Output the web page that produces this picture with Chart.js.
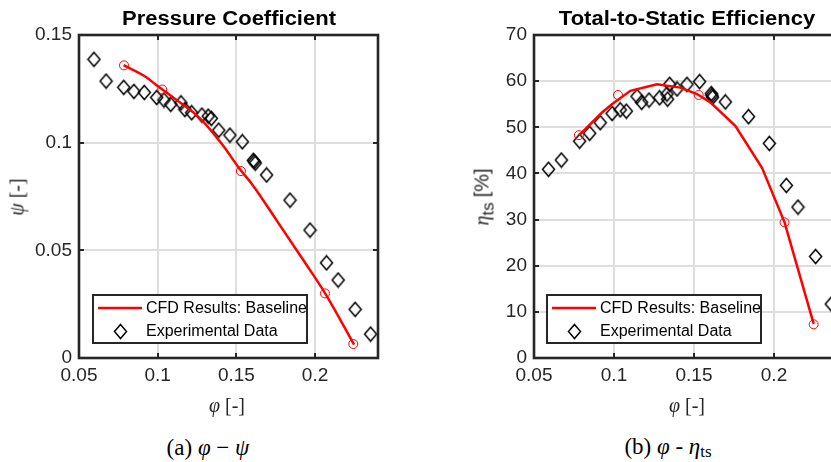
<!DOCTYPE html>
<html>
<head>
<meta charset="utf-8">
<script src="https://cdn.jsdelivr.net/npm/chart.js@4.4.1/dist/chart.umd.min.js"></script>
<style>
  body { margin: 0; width: 831px; height: 462px; overflow: hidden; background: #fff; position: relative; }
  canvas { position: absolute; top: 0; }
  .lbl { position: absolute; white-space: nowrap; transform: translate(-50%, -50%); color: #262626; }
  .title { font: bold 20px "Liberation Sans", Arial, sans-serif; color: #000; transform: translate(-50%, -50%) scaleX(1.1); }
  .ylab { transform: translate(-50%, -50%) rotate(-90deg); }
  .m { font-family: "Liberation Serif", serif; font-style: italic; }
  .r { font-family: "Liberation Serif", serif; }
  .s { font-family: "Liberation Sans", Arial, sans-serif; }
  .cap { font: 23px "Liberation Serif", serif; color: #000; }
  .cap sub { font-size: 17px; vertical-align: -3px; }
</style>
</head>
<body>
<canvas id="psiChart" width="400" height="400" style="left:0"></canvas>
<canvas id="etaChart" width="440" height="400" style="left:420px"></canvas>

<div class="lbl title" style="left:229px;top:18px">Pressure Coefficient</div>
<div class="lbl title" style="left:687px;top:18px">Total-to-Static Efficiency</div>

<div class="lbl ylab" style="left:17px;top:197px;font-size:20px"><span class="m">ψ</span> <span class="r">[-]</span></div>
<div class="lbl ylab" style="left:482px;top:197px;font-size:20px"><span class="m">η</span><span class="s" style="font-size:17px;position:relative;top:5px">ts</span> <span class="s">[%]</span></div>

<div class="lbl" style="left:227px;top:405px;font-size:20px"><span class="m">φ</span> <span class="r">[-]</span></div>
<div class="lbl" style="left:687px;top:405px;font-size:20px"><span class="m">φ</span> <span class="r">[-]</span></div>

<div class="lbl cap" style="left:208px;top:448px">(a) <i>φ</i> − <i>ψ</i></div>
<div class="lbl cap" style="left:668px;top:448px">(b) <i>φ</i> - <i>η</i><sub>ts</sub></div>

<script>
// ---- axis ticks ----
const phiTicks = [0.05, 0.1, 0.15, 0.2];
const psiTicks = [0, 0.05, 0.1, 0.15];
const etaTicks = [0, 10, 20, 30, 40, 50, 60, 70];

// ---- (a) pressure coefficient ----
const cfdPhiA = [0.0783, 0.0925, 0.0987, 0.1102, 0.1269, 0.1414, 0.1519, 0.1602, 0.1758, 0.1925, 0.2066, 0.2248];
const cfdPsi = [0.1360, 0.1305, 0.1270, 0.1208, 0.1113, 0.0988, 0.0880, 0.0805, 0.0637, 0.0455, 0.0298, 0.0062];
const cfdMarkPhiA = [0.0786, 0.1029, 0.1529, 0.2063, 0.2243];
const cfdMarkPsi = [0.1359, 0.1247, 0.0868, 0.0300, 0.0065];
const expPhiA = [0.0595, 0.0672, 0.0784, 0.0849, 0.0915, 0.0994, 0.1040, 0.1083, 0.1148, 0.1173,
                 0.1216, 0.1281, 0.1321, 0.1341, 0.1388, 0.1459, 0.1538, 0.1608, 0.1614, 0.1620,
                 0.1692, 0.1841, 0.1968, 0.2073, 0.2147, 0.2255, 0.2353];
const expPsi = [0.1387, 0.1286, 0.1257, 0.1238, 0.1233, 0.1210, 0.1198, 0.1178, 0.1185, 0.1154,
                0.1139, 0.1128, 0.1123, 0.1113, 0.1058, 0.1035, 0.1004, 0.0918, 0.0912, 0.0905,
                0.0850, 0.0733, 0.0594, 0.0442, 0.0362, 0.0226, 0.0111];

// ---- (b) total-to-static efficiency ----
const cfdPhiB = [0.0783, 0.0925, 0.0987, 0.1102, 0.1269, 0.1414, 0.1519, 0.1602, 0.1758, 0.1925, 0.2066, 0.2248];
const cfdEta = [48.3, 53.2, 55.0, 57.9, 59.3, 58.6, 57.2, 55.4, 50.3, 41.2, 29.4, 7.4];
const cfdMarkPhiB = [0.0781, 0.1025, 0.1529, 0.2066, 0.2248];
const cfdMarkEta = [48.3, 57.0, 57.0, 29.4, 7.3];
const expPhiB = [0.0591, 0.0671, 0.0785, 0.0848, 0.0914, 0.0988, 0.1039, 0.1077, 0.1144, 0.1173,
                 0.1219, 0.1285, 0.1331, 0.1335, 0.1348, 0.1394, 0.1456, 0.1535, 0.1608, 0.1612,
                 0.1616, 0.1696, 0.1841, 0.1971, 0.2077, 0.2150, 0.2260, 0.2358];
const expEta = [40.9, 42.9, 47.0, 48.7, 51.0, 53.0, 53.8, 53.5, 56.7, 55.4,
                55.9, 56.4, 57.2, 56.1, 59.3, 58.3, 59.3, 59.9, 57.3, 56.9,
                56.5, 55.5, 52.3, 46.5, 37.4, 32.7, 22.0, 11.7];

const AXIS = "#262626";
const RED = "#ff0000";
const TICK_FONT = { family: "'Liberation Sans', Arial, sans-serif", size: 19 };

const toPoints = (xs, ys) => xs.map((x, i) => ({ x, y: ys[i] }));

// MATLAB style diamond marker (slightly taller than wide)
function makeDiamond() {
  const c = document.createElement("canvas");
  c.width = 15; c.height = 17;
  const g = c.getContext("2d");
  g.strokeStyle = "#000";
  g.lineWidth = 1.5;
  g.beginPath();
  g.moveTo(7.5, 1.5); g.lineTo(13.5, 8.5); g.lineTo(7.5, 15.5); g.lineTo(1.5, 8.5);
  g.closePath();
  g.stroke();
  return c;
}
const diamond = makeDiamond();

/**
 * Box, inward tick marks and the legend drawn like a MATLAB axes
 */
const matlabAxes = {
  id: "matlabAxes",
  afterDraw(chart, args, opts) {
    const { ctx, chartArea: a, scales: { x, y } } = chart;
    ctx.save();
    ctx.strokeStyle = AXIS;

    ctx.lineWidth = 2;
    ctx.beginPath();
    x.ticks.forEach(t => {
      const px = Math.round(x.getPixelForValue(t.value));
      ctx.moveTo(px, a.bottom); ctx.lineTo(px, a.bottom - 5);
      ctx.moveTo(px, a.top); ctx.lineTo(px, a.top + 5);
    });
    y.ticks.forEach(t => {
      const py = Math.round(y.getPixelForValue(t.value));
      ctx.moveTo(a.left, py); ctx.lineTo(a.left + 5, py);
      ctx.moveTo(a.right, py); ctx.lineTo(a.right - 5, py);
    });
    ctx.stroke();

    ctx.lineWidth = 2.6;
    ctx.strokeRect(a.left, a.top, a.right - a.left, a.bottom - a.top);

    // legend
    const lx = a.left + opts.dx, ly = a.bottom - 63, lw = 214, lh = 48;
    ctx.fillStyle = "#fff";
    ctx.fillRect(lx, ly, lw, lh);
    ctx.strokeStyle = RED;
    ctx.lineWidth = 2.5;
    ctx.beginPath();
    ctx.moveTo(lx + 5, ly + 13); ctx.lineTo(lx + 49, ly + 13);
    ctx.stroke();
    ctx.drawImage(diamond, Math.round(lx + 27 - diamond.width / 2), Math.round(ly + 36 - diamond.height / 2));
    ctx.fillStyle = "#000";
    ctx.font = "16px 'Liberation Sans', Arial, sans-serif";
    ctx.textBaseline = "middle";
    ctx.fillText("CFD Results: Baseline", lx + 53, ly + 14);
    ctx.fillText("Experimental Data", lx + 53, ly + 37);
    ctx.strokeStyle = AXIS;
    ctx.lineWidth = 2;
    ctx.strokeRect(lx, ly, lw, lh);
    ctx.restore();
  },
};

function buildDatasets(line, marks, exp, smooth) {
  return [
    {
      label: "CFD Results: Baseline",
      data: line,
      showLine: true,
      borderColor: RED,
      borderWidth: 2.5,
      pointRadius: 0,
      cubicInterpolationMode: smooth ? "monotone" : "default",
      clip: false,
    },
    {
      label: "CFD points",
      data: marks,
      showLine: false,
      pointStyle: "circle",
      pointRadius: 4.5,
      borderColor: RED,
      borderWidth: 1,
      backgroundColor: "rgba(0,0,0,0)",
      clip: false,
    },
    {
      label: "Experimental Data",
      data: exp,
      showLine: false,
      pointStyle: diamond,
      pointRadius: 7,
      clip: false,
    },
  ];
}

function buildConfig(datasets, yTicks, yMax, yWidth, legendDx) {
  const gridOpts = { color: "#dedede", lineWidth: 2, drawTicks: false };
  return {
    type: "scatter",
    data: { datasets },
    plugins: [matlabAxes],
    options: {
      responsive: false,
      animation: false,
      devicePixelRatio: 1,
      layout: { padding: { top: 35, right: 22, left: 0, bottom: 0 } },
      plugins: {
        legend: { display: false },
        tooltip: { enabled: false },
        matlabAxes: { dx: legendDx },
      },
      scales: {
        x: {
          type: "linear",
          min: 0.05,
          max: 0.24,
          afterBuildTicks: s => { s.ticks = phiTicks.map(v => ({ value: v })); },
          afterFit: s => { s.height = 42; },
          grid: gridOpts,
          border: { display: false },
          ticks: { color: AXIS, font: TICK_FONT, padding: 6, maxRotation: 0, callback: v => String(v) },
        },
        y: {
          type: "linear",
          min: 0,
          max: yMax,
          afterBuildTicks: s => { s.ticks = yTicks.map(v => ({ value: v })); },
          afterFit: s => { s.width = yWidth; },
          grid: gridOpts,
          border: { display: false },
          ticks: { color: AXIS, font: TICK_FONT, padding: 7, callback: v => String(v) },
        },
      },
    },
  };
}

new Chart(document.getElementById("psiChart"), buildConfig(
  buildDatasets(toPoints(cfdPhiA, cfdPsi), toPoints(cfdMarkPhiA, cfdMarkPsi), toPoints(expPhiA, expPsi), true),
  psiTicks, 0.15, 79, 14
));

new Chart(document.getElementById("etaChart"), buildConfig(
  buildDatasets(toPoints(cfdPhiB, cfdEta), toPoints(cfdMarkPhiB, cfdMarkEta), toPoints(expPhiB, expEta), false),
  etaTicks, 70, 114, 13
));
</script>
</body>
</html>
